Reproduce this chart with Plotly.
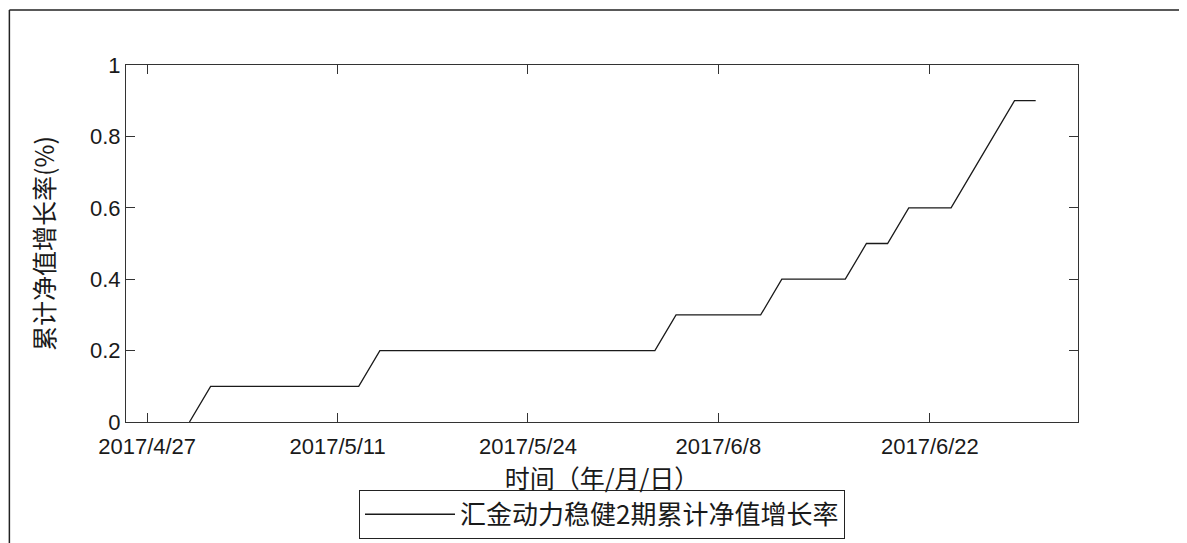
import plotly.graph_objects as go

# Trading days shown on the x axis (category axis, one slot per trading day)
trade_dates = [
    "2017/4/27", "2017/4/28", "2017/5/2", "2017/5/3", "2017/5/4", "2017/5/5",
    "2017/5/8", "2017/5/9", "2017/5/10", "2017/5/11", "2017/5/12", "2017/5/15",
    "2017/5/16", "2017/5/17", "2017/5/18", "2017/5/19", "2017/5/22", "2017/5/23",
    "2017/5/24", "2017/5/25", "2017/5/26", "2017/5/31", "2017/6/1", "2017/6/2",
    "2017/6/5", "2017/6/6", "2017/6/7", "2017/6/8", "2017/6/9", "2017/6/12",
    "2017/6/13", "2017/6/14", "2017/6/15", "2017/6/16", "2017/6/19", "2017/6/20",
    "2017/6/21", "2017/6/22", "2017/6/23", "2017/6/26", "2017/6/27", "2017/6/28",
    "2017/6/29", "2017/6/30",
]

# Series: dates with data and cumulative NAV growth (%)
series_dates = trade_dates[2:43]
series_values = [
    0.0,                                   # 5/2
    0.1, 0.1, 0.1, 0.1, 0.1, 0.1, 0.1, 0.1,  # 5/3 - 5/12
    0.2, 0.2, 0.2, 0.2, 0.2, 0.2, 0.2, 0.2, 0.2, 0.2, 0.2, 0.2, 0.2, 0.2,  # 5/15 - 6/5
    0.3, 0.3, 0.3, 0.3, 0.3,               # 6/6 - 6/12
    0.4, 0.4, 0.4, 0.4,                    # 6/13 - 6/16
    0.5, 0.5,                              # 6/19 - 6/20
    0.6, 0.6, 0.6,                         # 6/21 - 6/23
    0.7, 0.8, 0.9, 0.9,                    # 6/26 - 6/29
]

x_tick_labels = ["2017/4/27", "2017/5/11", "2017/5/24", "2017/6/8", "2017/6/22"]
y_tick_vals = [0, 0.2, 0.4, 0.6, 0.8, 1]
y_tick_text = ["0", "0.2", "0.4", "0.6", "0.8", "1"]

series_name = "汇金动力稳健2期累计净值增长率"
x_title = "时间（年/月/日）"
y_title = "累计净值增长率(%)"

FONT = "Liberation Sans, Arial, Noto Sans CJK SC, sans-serif"
CJK = "Noto Sans CJK SC, Liberation Sans, sans-serif"

fig = go.Figure()
fig.add_trace(go.Scatter(
    x=series_dates, y=series_values, mode="lines", name=series_name,
    line=dict(color="#1a1a1a", width=1.3),
))

axis_common = dict(
    showline=True, linecolor="#333333", linewidth=1.2, mirror="ticks",
    ticks="inside", ticklen=9, tickwidth=1.2, tickcolor="#333333",
    showgrid=False, zeroline=False,
    tickfont=dict(family=FONT, size=22, color="#1a1a1a"),
)

fig.update_layout(
    width=1179, height=535,
    margin=dict(l=118, r=109, t=57, b=121, autoexpand=False),
    paper_bgcolor="white", plot_bgcolor="white",
    showlegend=True,
    legend=dict(
        x=0.5, xanchor="center", y=-0.19, yanchor="top",
        bordercolor="#222222", borderwidth=1, bgcolor="white",
        font=dict(family=CJK, size=26, color="#1a1a1a"),
        itemwidth=90,
    ),
    xaxis=dict(
        type="category", categoryorder="array", categoryarray=trade_dates,
        range=[-1, 44], tickvals=x_tick_labels, ticktext=x_tick_labels,
        ticklabelstandoff=4,
        title=dict(text=x_title, font=dict(family=CJK, size=25, color="#1a1a1a"), standoff=0),
        **axis_common,
    ),
    yaxis=dict(
        range=[0, 1], tickvals=y_tick_vals, ticktext=y_tick_text,
        title=dict(text=y_title, font=dict(family=CJK, size=25, color="#1a1a1a"), standoff=28),
        **axis_common,
    ),
    shapes=[
        dict(type="line", xref="paper", yref="paper", x0=-0.1225, x1=-0.1225, y0=1.154, y1=-0.36,
             line=dict(color="#222222", width=1.5)),
        dict(type="line", xref="paper", yref="paper", x0=-0.1225, x1=1.12, y0=1.154, y1=1.154,
             line=dict(color="#222222", width=1.5)),
    ],
)

fig.write_html("out.html")
